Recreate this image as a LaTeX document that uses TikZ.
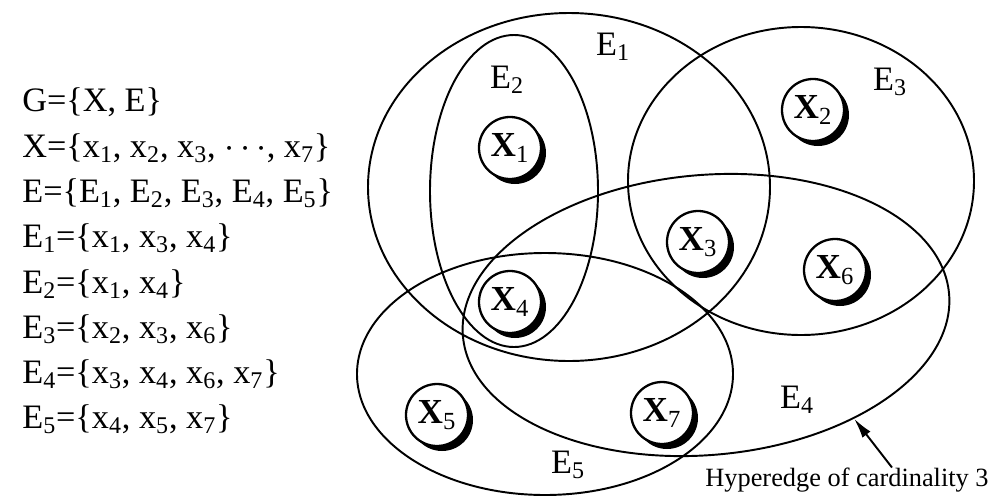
\documentclass[tikz,border=0pt]{standalone}
\usepackage{fontspec}
\setmainfont{Liberation Serif}
\usepackage{tikz}
\usetikzlibrary{arrows.meta,shapes.geometric,shadows}
\newcommand{\xs}[1]{x\textsubscript{#1}}
\newcommand{\Es}[1]{E\textsubscript{#1}}

\begin{document}
\begin{tikzpicture}[every node/.style={font=\fontsize{19.5}{22}\selectfont, inner sep=0pt},
  hedge/.style={draw, ellipse, line width=1.1pt, inner sep=0pt},
  vertex/.style={draw, circle, fill=white, line width=1.3pt, minimum size=1.24cm, inner sep=0pt,
    drop shadow={shadow xshift=.1cm, shadow yshift=-.1cm, fill=black, opacity=1},
    font=\fontsize{20}{20}\selectfont\bfseries},
  setline/.style={anchor=base west}]
\useasboundingbox (0,0) rectangle (20.08,-10.04);
% hyperedges
\node[hedge, minimum width=8.04cm, minimum height=6.96cm] (e1) at (11.38,-3.74) {};
\node[hedge, minimum width=3.36cm, minimum height=6.24cm] (e2) at (10.28,-3.82) {};
\node[hedge, minimum width=6.92cm, minimum height=6.16cm] (e3) at (16.02,-3.62) {};
\node[hedge, minimum width=9.76cm, minimum height=5.60cm, rotate=5] (e4) at (14.12,-6.30) {};
\node[hedge, minimum width=7.52cm, minimum height=4.84cm] (e5) at (10.90,-7.48) {};
\node (l1) at (12.26,-0.94) {\Es{1}};
\node (l2) at (10.14,-1.60) {\Es{2}};
\node (l3) at (17.80,-1.64) {\Es{3}};
\node (l4) at (15.94,-8.00) {\Es{4}};
\node (l5) at (11.36,-9.30) {\Es{5}};
% vertices
\node[vertex] (x1) at (10.20,-2.96) {X\textsubscript{\normalfont 1}};
\node[vertex] (x2) at (16.26,-2.20) {X\textsubscript{\normalfont 2}};
\node[vertex] (x3) at (13.96,-4.84) {X\textsubscript{\normalfont 3}};
\node[vertex] (x4) at (10.20,-6.04) {X\textsubscript{\normalfont 4}};
\node[vertex] (x5) at (8.74,-8.30) {X\textsubscript{\normalfont 5}};
\node[vertex] (x6) at (16.70,-5.40) {X\textsubscript{\normalfont 6}};
\node[vertex] (x7) at (13.24,-8.26) {X\textsubscript{\normalfont 7}};
% note
\node[font=\fontsize{15}{15}\selectfont] (hyp) at (16.94,-9.60) {Hyperedge of cardinality 3};
\draw[-{Latex[length=.4cm,width=.2cm]}, line width=1.1pt] ([xshift=.9cm]hyp.north) -- (e4.-40);
% definitions
\node[setline] (g) at (0.44,-2.23) {G=\{X, E\}};
\node[setline] (sx) at (0.44,-3.14) {X=\{\xs{1}, \xs{2}, \xs{3}, $\cdots$, \xs{7}\}};
\node[setline] (se) at (0.44,-4.04) {E=\{\Es{1}, \Es{2}, \Es{3}, \Es{4}, \Es{5}\}};
\node[setline] (s1) at (0.44,-4.95) {\Es{1}=\{\xs{1}, \xs{3}, \xs{4}\}};
\node[setline] (s2) at (0.44,-5.86) {\Es{2}=\{\xs{1}, \xs{4}\}};
\node[setline] (s3) at (0.44,-6.76) {\Es{3}=\{\xs{2}, \xs{3}, \xs{6}\}};
\node[setline] (s4) at (0.44,-7.67) {\Es{4}=\{\xs{3}, \xs{4}, \xs{6}, \xs{7}\}};
\node[setline] (s5) at (0.44,-8.57) {\Es{5}=\{\xs{4}, \xs{5}, \xs{7}\}};
\end{tikzpicture}
\end{document}
